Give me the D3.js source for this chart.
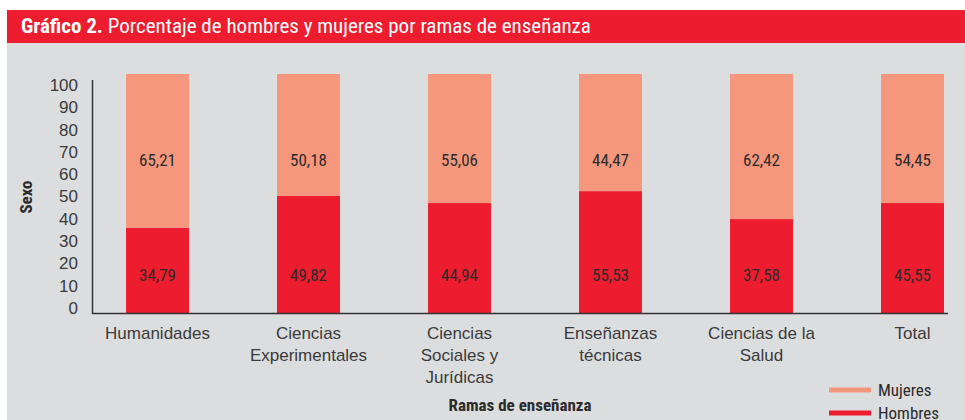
<!DOCTYPE html>
<html>
<head>
<meta charset="utf-8">
<script src="https://cdn.jsdelivr.net/npm/d3@7"></script>
<style>
  body { margin: 0; background: #fff; }
  svg text { font-family: "Liberation Sans Narrow", "Roboto Condensed", "Liberation Sans", Arial, sans-serif; }
</style>
</head>
<body>
<div id="chart"></div>
<script>
// Data
const categories = [
    ['Humanidades'],
    ['Ciencias', 'Experimentales'],
    ['Ciencias', 'Sociales y', 'Jurídicas'],
    ['Enseñanzas', 'técnicas'],
    ['Ciencias de la', 'Salud'],
    ['Total']
];
// printed labels
const hombres = [34.79, 49.82, 44.94, 55.53, 37.58, 45.55];
const mujeres = [65.21, 50.18, 55.06, 44.47, 62.42, 54.45];
// heights the bars are actually drawn at in the source chart (they differ a little from the labels)
const hombresBar = [35.7, 49.0, 46.0, 51.0, 39.3, 46.0];
const mujeresBar = [64.3, 51.0, 54.0, 49.0, 60.7, 54.0];
const yTicks = [0, 10, 20, 30, 40, 50, 60, 70, 80, 90, 100];

const W = 965, H = 420;
const red = '#ed1c2e', salmon = '#f5977d', grey = '#dcdddf', ink = '#2b2b2b';

const svg = d3.select('#chart').append('svg')
    .attr('width', W).attr('height', H);

// header and panel
svg.append('rect').attr('x', 7).attr('y', 43).attr('width', W - 7).attr('height', H - 43).attr('fill', grey);
svg.append('rect').attr('x', 7).attr('y', 10).attr('width', W - 7).attr('height', 33).attr('fill', red);
const title = svg.append('text').attr('x', 21).attr('y', 33)
    .attr('fill', '#fff').style('font-size', '21px');
title.append('tspan').attr('font-weight', 'bold').text('Gráfico 2.');
title.append('tspan').text(' Porcentaje de hombres y mujeres por ramas de enseñanza');

// scales
const idx = categories.map((d, i) => i);
const x = d3.scaleBand(idx, [82, 988]).paddingInner(0.583).paddingOuter(0.2915);
const y = d3.scaleLinear([0, 100], [313, 74]);
const yLabels = d3.scaleLinear([0, 100], [308, 85]); // tick labels sit a bit inside the bar range

// bars
const g = svg.append('g');
g.selectAll('rect.h').data(hombresBar).join('rect').classed('h', true)
    .attr('x', (d, i) => x(i)).attr('width', x.bandwidth())
    .attr('y', d => y(d)).attr('height', d => y(0) - y(d))
    .attr('fill', red);
g.selectAll('rect.m').data(mujeresBar).join('rect').classed('m', true)
    .attr('x', (d, i) => x(i)).attr('width', x.bandwidth())
    .attr('y', (d, i) => y(hombresBar[i] + d)).attr('height', (d, i) => y(hombresBar[i]) - y(hombresBar[i] + d))
    .attr('fill', salmon);

const fmt = v => v.toFixed(2).replace('.', ',');
g.selectAll('text.lm').data(mujeres).join('text').classed('lm', true)
    .attr('x', (d, i) => x(i) + x.bandwidth() / 2).attr('y', y(64)).attr('dy', '0.35em')
    .attr('text-anchor', 'middle').attr('fill', ink).style('font-size', '17px')
    .text(fmt);
g.selectAll('text.lh').data(hombres).join('text').classed('lh', true)
    .attr('x', (d, i) => x(i) + x.bandwidth() / 2).attr('y', y(16)).attr('dy', '0.35em')
    .attr('text-anchor', 'middle').attr('fill', ink).style('font-size', '17px')
    .text(fmt);

// y axis
const axisY = svg.append('g').attr('transform', 'translate(78,0)')
    .call(d3.axisLeft(yLabels).tickValues(yTicks).tickSize(0).tickPadding(0));
axisY.select('.domain').remove();
axisY.selectAll('text').attr('fill', '#3a3a3a').style('font-size', '17px')
    .style('font-family', '"Liberation Sans", Arial, sans-serif');

// axis lines
svg.append('line').attr('x1', 92.5).attr('x2', 92.5).attr('y1', 80).attr('y2', 314)
    .attr('stroke', '#333').attr('stroke-width', 1.5);
svg.append('line').attr('x1', 92).attr('x2', 948).attr('y1', 313.5).attr('y2', 313.5)
    .attr('stroke', '#333').attr('stroke-width', 1.5);

// x labels
const xl = svg.append('g').selectAll('text').data(categories).join('text')
    .attr('x', (d, i) => x(i) + x.bandwidth() / 2).attr('y', 339)
    .attr('text-anchor', 'middle').attr('fill', '#3a3a3a').style('font-size', '17px')
    .style('font-family', '"Liberation Sans", Arial, sans-serif');
xl.selectAll('tspan').data(d => d).join('tspan')
    .attr('x', function () { return d3.select(this.parentNode).attr('x'); })
    .attr('dy', (d, j) => j === 0 ? 0 : 22)
    .text(d => d);

// axis titles
svg.append('text').attr('x', 520).attr('y', 411).attr('text-anchor', 'middle')
    .attr('font-weight', 'bold').attr('fill', ink).style('font-size', '17px')
    .text('Ramas de enseñanza');
svg.append('text').attr('transform', 'translate(32,197) rotate(-90)').attr('text-anchor', 'middle')
    .attr('font-weight', 'bold').attr('fill', ink).style('font-size', '17px')
    .text('Sexo');

// legend
const legend = [['Mujeres', salmon], ['Hombres', red]];
const lg = svg.append('g').selectAll('g').data(legend).join('g')
    .attr('transform', (d, i) => `translate(829,${390 + i * 23})`);
lg.append('line').attr('x1', 0).attr('x2', 42).attr('stroke', d => d[1]).attr('stroke-width', 5);
lg.append('text').attr('x', 49).attr('dy', '0.35em').attr('fill', ink).style('font-size', '17px')
    .text(d => d[0]);
</script>
</body>
</html>
